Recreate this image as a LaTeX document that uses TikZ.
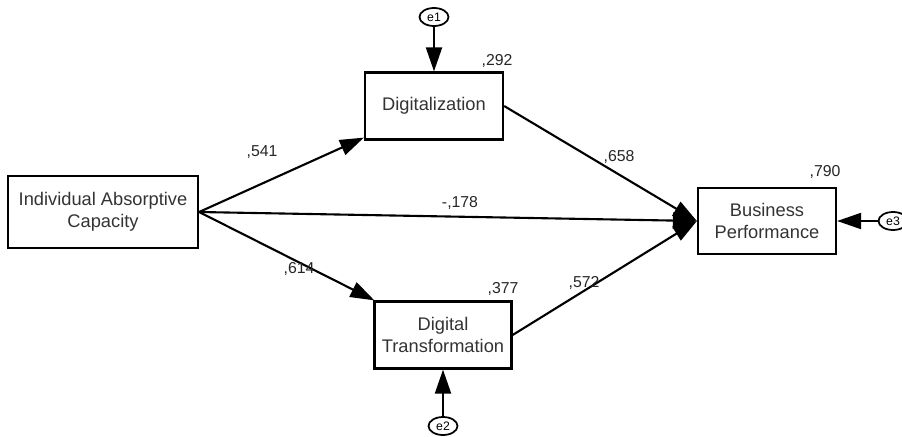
\documentclass[tikz,border=0pt]{standalone}
\usepackage{fontspec}
\setmainfont{Liberation Sans}
\usetikzlibrary{arrows.meta,shapes.geometric}

\begin{document}
\begin{tikzpicture}[x=0.02cm,y=-0.02cm,
  var/.style={draw,line width=1.3pt,align=center,font=\fontsize{10.4}{12.6}\selectfont,text=black!80,inner sep=0pt},
  err/.style={draw,ellipse,line width=1pt,minimum width=0.58cm,minimum height=0.36cm,inner sep=0pt,font=\scriptsize},
  path/.style={line width=1.2pt,-{Triangle[length=4.8mm,width=3.2mm]}},
  coef/.style={font=\small,text=black!85}]
\useasboundingbox (0,0) rectangle (902,436);
\node[var,minimum width=3.8cm,minimum height=1.44cm] (iac) at (103,212) {Individual Absorptive\\Capacity};
\node[var,minimum width=2.76cm,minimum height=1.34cm] (dig) at (434,106) {Digitalization};
\node[var,minimum width=2.74cm,minimum height=1.34cm] (dt) at (443,335) {Digital\\Transformation};
\node[var,minimum width=2.76cm,minimum height=1.32cm] (bp) at (767,221) {Business\\Performance};
\node[err] (e1) at (434,17) {e1};
\node[err] (e2) at (443,426) {e2};
\node[err] (e3) at (893,221) {e3};
\draw[path] (iac.east) -- (dig);
\draw[path] (iac.east) -- (dt);
\draw[path] (iac.east) -- (bp.west);
\draw[path] (dig.east) -- (bp.west);
\draw[path] (dt.east) -- (bp.west);
\draw[path] (e1) -- (dig);
\draw[path] (e2) -- (dt);
\draw[path] (e3) -- (bp);
% coefficients
\node[coef] (c1) at (262,152) {,541};
\node[coef] (c2) at (299,269) {,614};
\node[coef] (c3) at (460,203) {-,178};
\node[coef] (c4) at (619,157) {,658};
\node[coef] (c5) at (584,283) {,572};
% squared multiple correlations
\node[coef] (r1) at (497,61) {,292};
\node[coef] (r2) at (503,289) {,377};
\node[coef] (r3) at (825,172) {,790};
\end{tikzpicture}
\end{document}
